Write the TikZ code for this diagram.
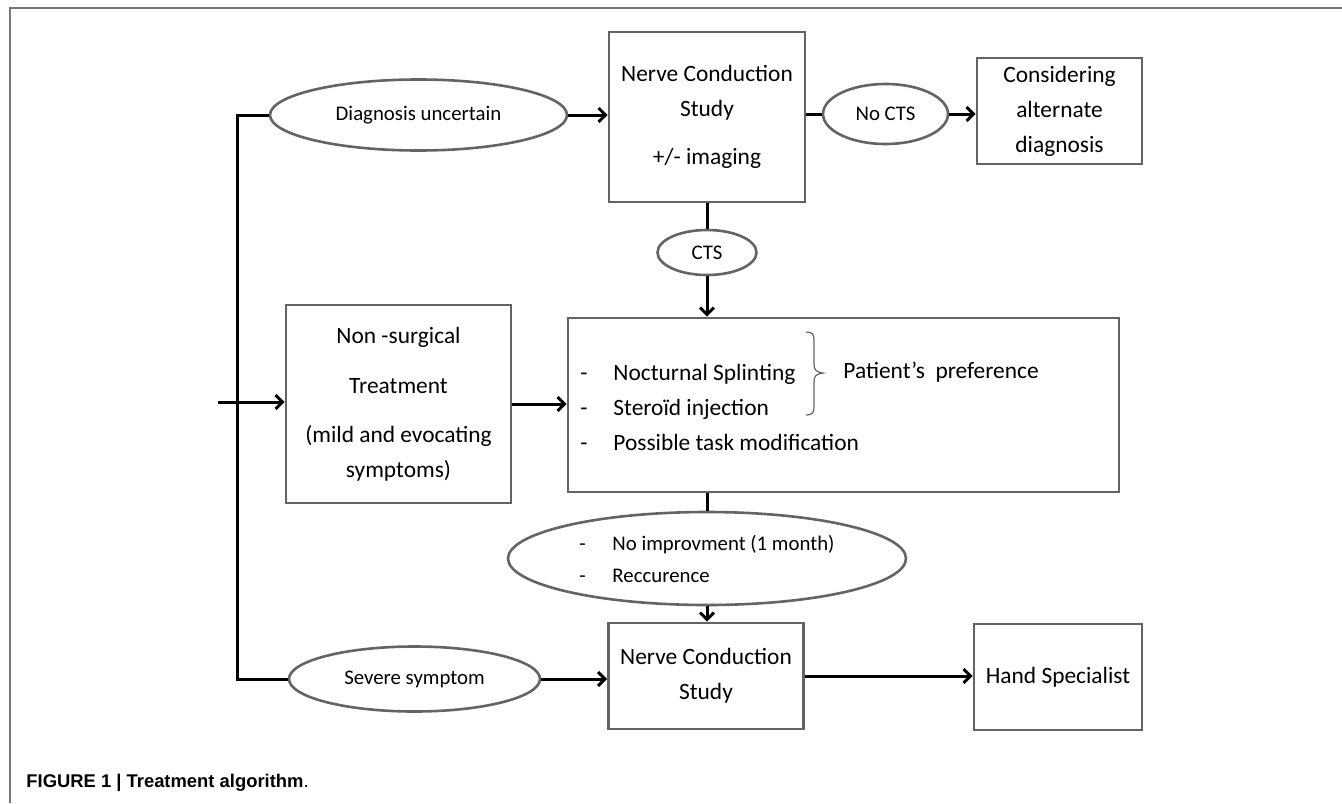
\documentclass[tikz,border=0pt]{standalone}
\usepackage{fontspec}
\setmainfont{Carlito}
\newfontfamily\capfont{Liberation Sans}
\usetikzlibrary{arrows.meta,shapes.geometric}
\definecolor{edge}{RGB}{100,100,100}
\definecolor{framecol}{RGB}{120,120,120}
\tikzset{
  box/.style={draw=edge, line width=1.3pt, fill=white, align=center, inner sep=0pt,
    font=\fontsize{11.7}{17.5}\selectfont},
  oval/.style={ellipse, draw=edge, line width=1.3pt, fill=white, inner sep=0pt,
    font=\fontsize{10.4}{16}\selectfont},
  link/.style={line width=1.5pt, black},
  arr/.style={link, -{Straight Barb[length=3.5pt,width=7pt]}},
  txt/.style={inner sep=0pt, font=\fontsize{11.7}{17.5}\selectfont},
}
\newcommand{\dashitem}[1]{\makebox[16.5pt][l]{-}#1}
\begin{document}
\begin{tikzpicture}[x=0.5pt,y=-0.5pt]
\useasboundingbox (0,0) rectangle (1342,803);
% frame
\draw[framecol, line width=0.8pt] (10,803) -- (10,8) -- (1342,8);

% boxes
\node[box, minimum width=98pt, minimum height=85pt] (ncs) at (707,117)
  {Nerve Conduction\\Study\\[6.5pt]+/- imaging};
\node[box, minimum width=82.5pt, minimum height=53pt] (alt) at (1059.5,111)
  {Considering\\alternate\\diagnosis};
\node[box, minimum width=112.5pt, minimum height=99pt] (nons) at (398.5,404)
  {Non -surgical\\[7.5pt]Treatment\\[7pt](mild and evocating\\symptoms)};
\node[box, minimum width=275.5pt, minimum height=87pt] (big) at (843.5,405) {};
\node[box, minimum width=97.5pt, minimum height=53pt] (ncs2) at (706,676)
  {Nerve Conduction\\Study};
\node[box, minimum width=84pt, minimum height=53pt] (hand) at (1058,677)
  {Hand Specialist};

% ellipses
\node[oval, minimum width=148.5pt, minimum height=35.5pt] (diag) at (418.5,115) {Diagnosis uncertain};
\node[oval, minimum width=62.5pt, minimum height=30pt] (nocts) at (885.5,114) {No CTS};
\node[oval, minimum width=49.5pt, minimum height=22.5pt] (cts) at (707,252.5) {CTS};
\node[oval, minimum width=199pt, minimum height=46.5pt, align=left] (noimp) at (707,558.5)
  {\dashitem{No improvment (1 month)}\\\dashitem{Reccurence}};
\node[oval, minimum width=125.5pt, minimum height=32.5pt] (sev) at (414.5,679) {Severe symptom};

% content of the big box
\node[txt, anchor=west, align=left] (list) at (580,407)
  {\dashitem{Nocturnal Splinting}\\\dashitem{Steroïd injection}\\\dashitem{Possible task modification}};
\node[txt, anchor=west] (pref) at (843,372) {Patient’s\ \ preference};
\draw[edge, line width=0.6pt] (806,332) .. controls (812,332) and (814,334) .. (814,340)
  -- (814,364) .. controls (814,370) and (816,372) .. (823,373)
  .. controls (816,374) and (814,376) .. (814,382)
  -- (814,407) .. controls (814,413) and (812,415) .. (806,415);

% connectors
\coordinate (tl) at (237,115);
\coordinate (bl) at (237,679);
\coordinate (in) at (218,402);
\draw[link] (diag.west) -- (tl) -- (bl) -- (sev.west);
\draw[arr] (diag.east) -- (diag.east -| ncs.west);
\draw[link] (nocts.west -| ncs.east) -- (nocts.west);
\draw[arr] (nocts.east) -- (nocts.east -| alt.west);
\draw[link] (ncs.south) -- (cts.north);
\draw[arr] (cts.south) -- (cts.south |- big.north);
\draw[arr] (in) -- (in -| nons.west);
\draw[arr] (nons.east) -- (nons.east -| big.west);
\draw[link] (noimp.north |- big.south) -- (noimp.north);
\draw[arr] (noimp.south) -- (noimp.south |- ncs2.north);
\draw[arr] (sev.east) -- (sev.east -| ncs2.west);
\draw[arr] (ncs2.east) -- (ncs2.east -| hand.west);

% caption
\node[anchor=base west, inner sep=0pt, font=\capfont\fontsize{9.2}{11}\selectfont] (cap) at (26,787)
  {\textbf{FIGURE 1 | Treatment algorithm}.};
\end{tikzpicture}
\end{document}
